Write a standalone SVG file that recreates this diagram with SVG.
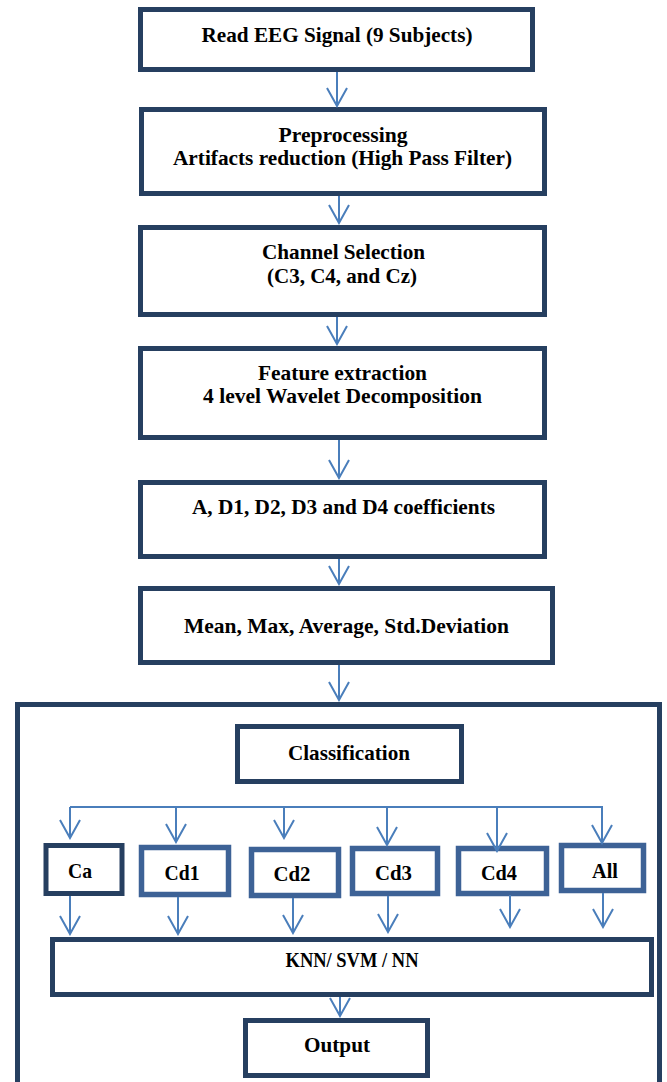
<svg xmlns="http://www.w3.org/2000/svg" width="667" height="1082" viewBox="0 0 667 1082">
<style>
.bx{fill:#fff;stroke:#263f60;stroke-width:5}
.sb{fill:#fff;stroke:#3d6296;stroke-width:5.5}
.t{font-family:"Liberation Serif","Times New Roman",serif;font-weight:bold;font-size:21px;fill:#000;text-anchor:middle}
.c{fill:none;stroke:#4a7ebb;stroke-width:2}
</style>
<defs>
<marker id="ah" viewBox="0 0 22 22" refX="20" refY="11" markerWidth="22" markerHeight="22" orient="auto" markerUnits="userSpaceOnUse">
<path d="M2,1 L20,11 L2,21" fill="none" stroke="#4a7ebb" stroke-width="2"/>
</marker>
</defs>
<rect x="0" y="0" width="667" height="1082" fill="#fff"/>
<g id="container"><rect class="bx" x="17.5" y="704.5" width="642" height="420"/></g>
<g id="n1"><rect class="bx" x="140.5" y="9.5" width="392" height="60"/>
<text class="t" x="337" y="42" textLength="271" lengthAdjust="spacingAndGlyphs">Read EEG Signal (9 Subjects)</text></g>
<g id="n2"><rect class="bx" x="141.5" y="109.5" width="403" height="84"/>
<text class="t" x="343" y="142" textLength="129" lengthAdjust="spacingAndGlyphs">Preprocessing</text>
<text class="t" x="342.5" y="165" textLength="339" lengthAdjust="spacingAndGlyphs">Artifacts reduction (High Pass Filter)</text></g>
<g id="n3"><rect class="bx" x="140.5" y="227.5" width="404" height="87"/>
<text class="t" x="343.5" y="259" textLength="163" lengthAdjust="spacingAndGlyphs">Channel Selection</text>
<text class="t" x="342" y="283" textLength="150" lengthAdjust="spacingAndGlyphs">(C3, C4, and Cz)</text></g>
<g id="n4"><rect class="bx" x="140.5" y="348.5" width="404" height="89"/>
<text class="t" x="342.5" y="380" textLength="169" lengthAdjust="spacingAndGlyphs">Feature extraction</text>
<text class="t" x="342.5" y="403" textLength="279" lengthAdjust="spacingAndGlyphs">4 level Wavelet Decomposition</text></g>
<g id="n5"><rect class="bx" x="140.5" y="482.5" width="404" height="74"/>
<text class="t" x="343.5" y="514" textLength="303" lengthAdjust="spacingAndGlyphs">A, D1, D2, D3 and D4 coefficients</text></g>
<g id="n6"><rect class="bx" x="140.5" y="588.5" width="412" height="74"/>
<text class="t" x="346.5" y="633" textLength="325" lengthAdjust="spacingAndGlyphs">Mean, Max, Average, Std.Deviation</text></g>
<g id="n7"><rect class="bx" x="237.5" y="726.5" width="224" height="55"/>
<text class="t" x="349" y="760" font-size="22" textLength="122" lengthAdjust="spacingAndGlyphs">Classification</text></g>
<g id="ca"><rect class="bx" x="46" y="845.5" width="76" height="48" stroke-width="5.5"/>
<text class="t" x="80" y="878" textLength="24" lengthAdjust="spacingAndGlyphs">Ca</text></g>
<g id="cd1"><rect class="sb" x="141.5" y="847.5" width="87" height="47"/>
<text class="t" x="182" y="880" textLength="35" lengthAdjust="spacingAndGlyphs">Cd1</text></g>
<g id="cd2"><rect class="sb" x="251.5" y="849.5" width="87" height="46"/>
<text class="t" x="292" y="881" textLength="37" lengthAdjust="spacingAndGlyphs">Cd2</text></g>
<g id="cd3"><rect class="sb" x="352.5" y="848.5" width="85" height="45"/>
<text class="t" x="393.5" y="880" textLength="37" lengthAdjust="spacingAndGlyphs">Cd3</text></g>
<g id="cd4"><rect class="sb" x="458.5" y="848.5" width="88" height="45"/>
<text class="t" x="499" y="880" textLength="36" lengthAdjust="spacingAndGlyphs">Cd4</text></g>
<g id="all"><rect class="sb" x="561.5" y="845.5" width="82" height="45"/>
<text class="t" x="605" y="878" textLength="26" lengthAdjust="spacingAndGlyphs">All</text></g>
<g id="knn"><rect class="bx" x="52.5" y="939.5" width="599" height="55"/>
<text class="t" x="352" y="967" font-size="18" textLength="133" lengthAdjust="spacingAndGlyphs">KNN/ SVM / NN</text></g>
<g id="out"><rect class="bx" x="245.5" y="1020.5" width="182" height="55"/>
<text class="t" x="337" y="1052" textLength="66" lengthAdjust="spacingAndGlyphs">Output</text></g>
<g id="connectors">
<line class="c" x1="337" y1="72" x2="337" y2="106" marker-end="url(#ah)"/>
<line class="c" x1="339" y1="196" x2="339" y2="223" marker-end="url(#ah)"/>
<line class="c" x1="337" y1="317" x2="337" y2="344" marker-end="url(#ah)"/>
<line class="c" x1="339" y1="440" x2="339" y2="478" marker-end="url(#ah)"/>
<line class="c" x1="339" y1="559" x2="339" y2="584" marker-end="url(#ah)"/>
<line class="c" x1="339" y1="665" x2="339" y2="700" marker-end="url(#ah)"/>
<line class="c" x1="70" y1="807" x2="603" y2="807"/>
<line class="c" x1="70" y1="807" x2="70" y2="838" marker-end="url(#ah)"/>
<line class="c" x1="176" y1="807" x2="176" y2="842" marker-end="url(#ah)"/>
<line class="c" x1="284" y1="807" x2="284" y2="838" marker-end="url(#ah)"/>
<line class="c" x1="387" y1="807" x2="387" y2="845" marker-end="url(#ah)"/>
<line class="c" x1="497" y1="807" x2="497" y2="851" marker-end="url(#ah)"/>
<line class="c" x1="602" y1="807" x2="602" y2="843" marker-end="url(#ah)"/>
<line class="c" x1="70" y1="896" x2="70" y2="934" marker-end="url(#ah)"/>
<line class="c" x1="178" y1="897" x2="178" y2="934" marker-end="url(#ah)"/>
<line class="c" x1="293" y1="898" x2="293" y2="933" marker-end="url(#ah)"/>
<line class="c" x1="388" y1="896" x2="388" y2="932" marker-end="url(#ah)"/>
<line class="c" x1="510" y1="895" x2="510" y2="927" marker-end="url(#ah)"/>
<line class="c" x1="603" y1="893" x2="603" y2="927" marker-end="url(#ah)"/>
<line class="c" x1="340" y1="997" x2="340" y2="1016" marker-end="url(#ah)"/>
</g>
</svg>
